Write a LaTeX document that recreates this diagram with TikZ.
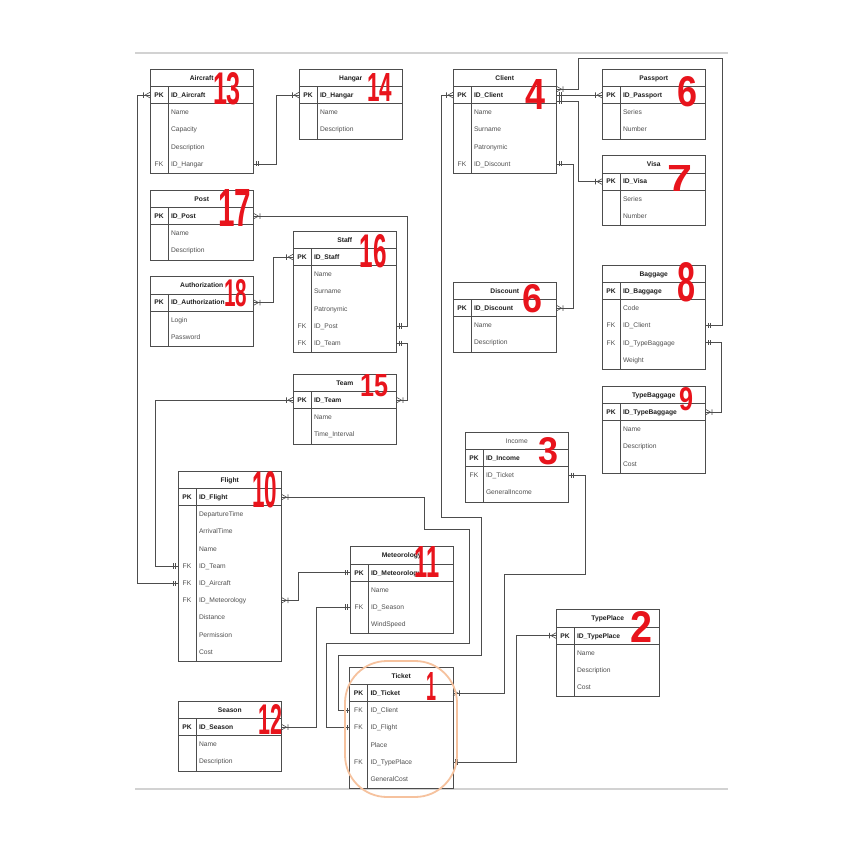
\documentclass[tikz,border=0pt]{standalone}
\usepackage{fontspec}
\setmainfont{Liberation Sans}
\usepackage{graphicx}
\usetikzlibrary{decorations.markings}
\definecolor{boxline}{HTML}{4D4D4D}
\definecolor{fldgray}{HTML}{505050}
\definecolor{keyblack}{HTML}{1E1E1E}
\definecolor{annred}{HTML}{E8141C}
\definecolor{ringorange}{HTML}{F6C29E}
\definecolor{sepgray}{HTML}{D2D2D2}
\definecolor{connline}{HTML}{4D4D4D}
\tikzset{
  txtbase/.style={inner sep=0pt, outer sep=0pt, text height=4.8pt, text depth=0pt},
  ttlbox/.style={draw=boxline, line width=0.7pt, minimum width=103.5pt, minimum height=17.5pt, inner sep=0pt, outer sep=0pt, anchor=north west, text height=4.8pt, text depth=0pt, font=\fontsize{6.7}{8}\selectfont\bfseries, text=keyblack},
  pkbox/.style={draw=boxline, line width=0.7pt, minimum width=103.5pt, minimum height=17.2pt, inner sep=0pt, outer sep=0pt, anchor=north west},
  fldbox/.style={minimum width=103.5pt, minimum height=17.2pt, inner sep=0pt, outer sep=0pt, anchor=north west},
  pkkey/.style={txtbase, font=\fontsize{6.7}{8}\selectfont\bfseries, text=keyblack},
  pkname/.style={txtbase, anchor=west, font=\fontsize{6.7}{8}\selectfont\bfseries, text=keyblack},
  fkkey/.style={txtbase, font=\fontsize{6.7}{8}\selectfont, text=fldgray},
  fldname/.style={txtbase, anchor=west, font=\fontsize{6.7}{8}\selectfont, text=fldgray},
  bodyline/.style={draw=boxline, line width=0.7pt},
  conn/.style={draw=connline, line width=0.7pt},
  onestart/.style={postaction={decorate, decoration={markings, mark=at position 0.00001 with {\draw[connline, line width=0.6pt] (2.5pt,2.6pt) -- (2.5pt,-2.6pt) (4.6pt,2.6pt) -- (4.6pt,-2.6pt);}}}},
  manyend/.style={postaction={decorate, decoration={markings, mark=at position 0.99999 with {\draw[connline, line width=0.6pt] (-5pt,0pt) -- (0pt,2.8pt) (-5pt,0pt) -- (0pt,-2.8pt) (-6.5pt,2.8pt) -- (-6.5pt,-2.8pt);}}}},
  manystart/.style={postaction={decorate, decoration={markings, mark=at position 0.00001 with {\draw[connline, line width=0.6pt] (5pt,0pt) -- (0pt,2.8pt) (5pt,0pt) -- (0pt,-2.8pt) (6.5pt,2.8pt) -- (6.5pt,-2.8pt);}}}},
  annot/.style={inner sep=0pt, outer sep=0pt, text=annred, font=\fontsize{20}{20}\selectfont\bfseries},
  ring/.style={draw=ringorange, line width=1.8pt, rounded corners=42pt},
  sepline/.style={draw=sepgray, line width=2.5pt}
}
\newcommand\ertable[7]{%
  \node[ttlbox] (#1) at (#2,#3) {#4};
  \node[pkbox] (#1-pk) at (#2,{#3+17.5}) {};
  \node[pkkey] (#1-pkk) at ({#2+9},{#3+26.1}) {PK};
  \node[pkname] (#1-pkn) at ({#2+21},{#3+26.1}) {#5};
  \foreach \k/\f [count=\i] in {#7} {
    \node[fldbox] (#1-\i) at (#2,{#3+34.7+17.2*(\i-1)}) {};
    \node[fkkey] (#1-k\i) at ({#2+9},{#3+43.3+17.2*(\i-1)}) {\k};
    \node[fldname] (#1-f\i) at ({#2+21},{#3+43.3+17.2*(\i-1)}) {\f};
  }
  \draw[bodyline] (#2,{#3+34.7}) rectangle ({#2+103.5},{#3+35.5+17.2*#6});
  \draw[bodyline] ({#2+18},{#3+17.5}) -- ({#2+18},{#3+35.5+17.2*#6});
}
\newcommand\annotnum[6]{%
  \node[annot] (#1) at (#2,#3) {\resizebox{#4pt}{#5pt}{#6}};
}
\begin{document}
\begin{tikzpicture}[x=1pt,y=-1pt]
\useasboundingbox (0,0) rectangle (862,842);
\fill[white] (0,0) rectangle (862,842);
\draw[sepline] (135,53) -- (728,53);
\draw[sepline] (135,789) -- (728,789);

\ertable{aircraft}{150}{69}{Aircraft}{ID\_Aircraft}{4}{/Name,/Capacity,/Description,FK/ID\_Hangar}
\ertable{hangar}{299}{69}{Hangar}{ID\_Hangar}{2}{/Name,/Description}
\ertable{client}{453}{69}{Client}{ID\_Client}{4}{/Name,/Surname,/Patronymic,FK/ID\_Discount}
\ertable{passport}{602}{69}{Passport}{ID\_Passport}{2}{/Series,/Number}
\ertable{visa}{602}{155.5}{Visa}{ID\_Visa}{2}{/Series,/Number}
\ertable{post}{150}{190}{Post}{ID\_Post}{2}{/Name,/Description}
\ertable{authorization}{150}{276.5}{Authorization}{ID\_Authorization}{2}{/Login,/Password}
\ertable{staff}{293}{231}{Staff}{ID\_Staff}{5}{/Name,/Surname,/Patronymic,FK/ID\_Post,FK/ID\_Team}
\ertable{discount}{453}{282}{Discount}{ID\_Discount}{2}{/Name,/Description}
\ertable{baggage}{602}{265}{Baggage}{ID\_Baggage}{4}{/Code,FK/ID\_Client,FK/ID\_TypeBaggage,/Weight}
\ertable{typebaggage}{602}{386}{TypeBaggage}{ID\_TypeBaggage}{3}{/Name,/Description,/Cost}
\ertable{team}{293}{374}{Team}{ID\_Team}{2}{/Name,/Time\_Interval}
\ertable{income}{465}{432}{{\mdseries\color{fldgray}Income}}{ID\_Income}{2}{FK/ID\_Ticket,/GeneralIncome}
\ertable{flight}{178}{471}{Flight}{ID\_Flight}{9}{/DepartureTime,/ArrivalTime,/Name,FK/ID\_Team,FK/ID\_Aircraft,FK/ID\_Meteorology,/Distance,/Permission,/Cost}
\ertable{meteorology}{350}{546.5}{Meteorology}{ID\_Meteorology}{3}{/Name,FK/ID\_Season,/WindSpeed}
\ertable{typeplace}{556}{609.5}{TypePlace}{ID\_TypePlace}{3}{/Name,/Description,/Cost}
\ertable{season}{178}{701}{Season}{ID\_Season}{2}{/Name,/Description}
\ertable{ticket}{349.5}{667}{Ticket}{ID\_Ticket}{5}{FK/ID\_Client,FK/ID\_Flight,/Place,FK/ID\_TypePlace,/GeneralCost}

% connectors
\draw[conn,onestart,manyend] (aircraft-4.east) -- ++(23,0) |- (hangar-pk.west);
\draw[conn,onestart,manyend] (flight-5.west) -- ++(-41,0) |- (aircraft-pk.west);
\draw[conn,onestart,manyend] (flight-4.west) -- ++(-23,0) |- (team-pk.west);
\draw[conn,onestart,manyend] (meteorology-pk.west) -- ++(-52,0) |- (flight-6.east);
\draw[conn,onestart,manyend] (meteorology-2.west) -- ++(-34,0) |- (season-pk.east);
\draw[conn,onestart,manyend] (ticket-2.west) -- ++(-23,0) -- ++(0,-84) -- ++(143,0) -- ++(0,-114) -- ++(-45,0) |- (flight-pk.east);
\draw[conn,onestart,manyend] (ticket-1.west) -- ++(-11,0) -- ++(0,-55) -- ++(143,0) -- ++(0,-138) -- ++(-40,0) |- (client-pk.west);
\draw[conn,onestart,manyend] (ticket-4.east) -- ++(63,0) |- (typeplace-pk.west);
\draw[conn,onestart,manyend] (income-1.east) -- ++(17,0) -- ++(0,99) -- ++(-81,0) |- (ticket-pk.east);
\draw[conn,onestart,manyend] (client-4.east) -- ++(17,0) |- (discount-pk.east);
\draw[conn,onestart,manyend] (client-pk.east) -- (passport-pk.west);
\draw[conn,onestart,manyend] ([yshift=-6pt]client-pk.east) -- ++(22,0) |- (visa-pk.west);
\draw[conn,onestart,manyend] (baggage-2.east) -- ++(17,0) -- ++(0,-267.5) -- ++(-144,0) |- ([yshift=6pt]client-pk.east);
\draw[conn,onestart,manyend] (baggage-3.east) -- ++(16,0) |- (typebaggage-pk.east);
\draw[conn,onestart,manyend] (staff-4.east) -- ++(11,0) |- (post-pk.east);
\draw[conn,onestart,manyend] (staff-5.east) -- ++(11,0) |- (team-pk.east);
\draw[conn,manystart,manyend] (authorization-pk.east) -- ++(20,0) |- (staff-pk.west);

% red annotations
\annotnum{n13}{227}{89}{28}{32}{13}
\annotnum{n14}{379.5}{88}{25}{28}{14}
\annotnum{n4}{535}{95}{20}{30}{4}
\annotnum{n6a}{687}{92}{20}{30}{6}
\annotnum{n7}{680}{179}{25}{26}{7}
\annotnum{n17}{235}{208}{33}{37}{17}
\annotnum{n16}{373}{251}{27}{33}{16}
\annotnum{n18}{236}{293}{23}{27}{18}
\annotnum{n6b}{532}{299}{20}{28}{6}
\annotnum{n8}{686}{282}{18}{39}{8}
\annotnum{n9}{686}{399}{14}{23}{9}
\annotnum{n15}{374}{386}{28}{22}{15}
\annotnum{n3}{548}{451}{20}{27}{3}
\annotnum{n10}{265}{490}{25}{36}{10}
\annotnum{n11}{427}{562}{25}{31}{11}
\annotnum{n2}{641}{627}{22}{31}{2}
\annotnum{n12}{270}{719}{24}{30}{12}
\annotnum{n1}{431}{686}{10}{28}{1}

% orange ring around Ticket
\draw[ring] (345,661) rectangle (457,797);
\end{tikzpicture}
\end{document}
